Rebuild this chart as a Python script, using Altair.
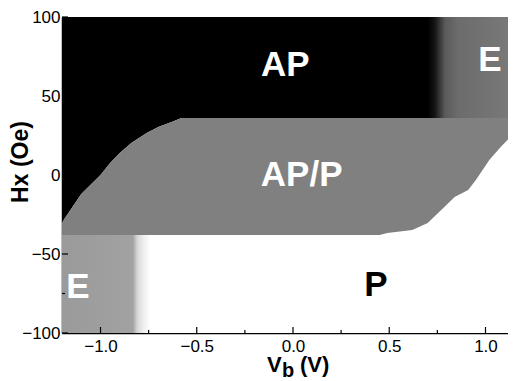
import altair as alt
import pandas as pd

# ---- axis ranges and ticks ----
X_MIN, X_MAX = -1.2, 1.117
Y_MIN, Y_MAX = -100, 100
X_MAJOR = [-1.0, -0.5, 0.0, 0.5, 1.0]
X_MINOR = [-0.75, -0.25, 0.25, 0.75]
Y_MAJOR = [-100, -50, 0, 50, 100]
Y_MINOR = [-75, -25, 25, 75]

# ---- phase boundaries (V_b in V, Hx in Oe) ----
bound_v = [-1.2, -1.1, -1.0, -0.95, -0.9, -0.84, -0.76, -0.7, -0.63, -0.58,
           0.45, 0.49, 0.62, 0.70, 0.77, 0.84, 0.91, 0.95, 1.02, 1.08, 1.15]
upper_h = [-30, -12, 0, 7.6, 14, 20.3, 26.6, 30.4, 33.5, 36,
           36, 36, 36, 36, 36, 36, 36, 36, 36, 36, 36]
lower_h = [-38, -38, -38, -38, -38, -38, -38, -38, -38, -38,
           -38, -36.7, -34.8, -30.4, -22.2, -13.9, -9.5, -3.2, 9.5, 17.9, 26.6]

# ---- E (noisy) regions ----
e_v0 = [-1.2, 0.70]
e_v1 = [-0.74, 1.15]
e_h0 = [-100, 36]
e_h1 = [-38, 100]

# ---- region labels ----
lab_text = ["AP", "AP/P", "P", "E", "E"]
lab_v = [-0.04, 0.045, 0.431, 1.023, -1.117]
lab_h = [69.6, 0.0, -69.4, 72.5, -71.2]
lab_col = ["white", "white", "black", "white", "white"]

FONT = "Liberation Sans"
W, H = 446, 316

bounds = pd.DataFrame({"v": bound_v, "upper": upper_h, "lower": lower_h,
                       "floor": [Y_MIN] * len(bound_v),
                       "ceil": [Y_MAX] * len(bound_v)})
eregs = pd.DataFrame({"v0": e_v0, "v1": e_v1, "h0": e_h0, "h1": e_h1})
labels = pd.DataFrame({"v": lab_v, "h": lab_h, "t": lab_text, "c": lab_col})
xmaj = pd.DataFrame({"v": X_MAJOR})
xmin = pd.DataFrame({"v": X_MINOR})
ymaj = pd.DataFrame({"h": Y_MAJOR})
ymin = pd.DataFrame({"h": Y_MINOR})

xs = alt.Scale(domain=[X_MIN, X_MAX], nice=False, zero=False)
ys = alt.Scale(domain=[Y_MIN, Y_MAX], nice=False, zero=False)

xaxis = alt.Axis(values=X_MAJOR, format=".1f", title=None, ticks=False, grid=False,
                 labelFontSize=17, labelFont=FONT, labelColor="black", labelPadding=5,
                 domainColor="black", domainWidth=1.5, labelFlush=False, labelOverlap=False)
yaxis = alt.Axis(values=Y_MAJOR, format="d", title=None, ticks=False, grid=False,
                 labelFontSize=17, labelFont=FONT, labelColor="black", labelPadding=2,
                 domainColor="black", domainWidth=1.5, labelFlush=False, labelOverlap=False)


def X(f):
    return alt.X(f, type="quantitative", scale=xs, axis=xaxis)


def Y(f):
    return alt.Y(f, type="quantitative", scale=ys, axis=yaxis)


ap_area = alt.Chart(bounds).mark_area(color="black", clip=True).encode(
    x=X("v"), y=Y("upper"), y2="ceil")
p_area = alt.Chart(bounds).mark_area(color="white", clip=True).encode(
    x=X("v"), y=Y("floor"), y2="lower")
g_area = alt.Chart(bounds).mark_area(color="#808080", clip=True).encode(
    x=X("v"), y=Y("lower"), y2="upper")

grad_bl = alt.LinearGradient(gradient="linear", x1=0, x2=1, y1=0, y2=0, stops=[
    alt.GradientStop(color="#9a9a9a", offset=0),
    alt.GradientStop(color="#a2a2a2", offset=0.8),
    alt.GradientStop(color="#d6d6d6", offset=0.85),
    alt.GradientStop(color="#eeeeee", offset=0.92),
    alt.GradientStop(color="#ffffff", offset=1)])
grad_tr = alt.LinearGradient(gradient="linear", x1=0, x2=1, y1=0, y2=0, stops=[
    alt.GradientStop(color="#000000", offset=0),
    alt.GradientStop(color="#141414", offset=0.08),
    alt.GradientStop(color="#5a5a5a", offset=0.2),
    alt.GradientStop(color="#6c6c6c", offset=0.35),
    alt.GradientStop(color="#7a7a7a", offset=1)])

e_bl = alt.Chart(eregs.iloc[[0]]).mark_rect(color=grad_bl, clip=True).encode(
    x=X("v0"), x2="v1", y=Y("h0"), y2="h1")
e_tr = alt.Chart(eregs.iloc[[1]]).mark_rect(color=grad_tr, clip=True).encode(
    x=X("v0"), x2="v1", y=Y("h0"), y2="h1")

texts = alt.Chart(labels).mark_text(font=FONT, fontWeight="bold", fontSize=35,
                                    align="center", baseline="middle").encode(
    x=X("v"), y=Y("h"), text="t:N", color=alt.Color("c:N", scale=None))

tk_xmaj = alt.Chart(xmaj).mark_rule(color="black", strokeWidth=1.2).encode(
    x=X("v"), y=alt.value(H), y2=alt.value(H - 6))
tk_xmin = alt.Chart(xmin).mark_rule(color="black", strokeWidth=1.2).encode(
    x=X("v"), y=alt.value(H), y2=alt.value(H - 3))
tk_ymaj = alt.Chart(ymaj).mark_rule(color="black", strokeWidth=1.2).encode(
    y=Y("h"), x=alt.value(0), x2=alt.value(6))
tk_ymin = alt.Chart(ymin).mark_rule(color="black", strokeWidth=1.2).encode(
    y=Y("h"), x=alt.value(0), x2=alt.value(3))

# axis titles (V with subscript b built from separate text pieces)
xt_main = pd.DataFrame({"t": ["V", "(V)"], "px": [205, 238]})
xt_sub = pd.DataFrame({"t": ["b"]})
yt = pd.DataFrame({"t": ["Hx (Oe)"]})

xtitle = alt.Chart(xt_main).mark_text(font=FONT, fontWeight="bold", fontSize=22,
                                      align="left", baseline="alphabetic").encode(
    x=alt.X("px:Q", scale=None), y=alt.value(355), text="t:N")
xsub = alt.Chart(xt_sub).mark_text(font=FONT, fontWeight="bold", fontSize=20,
                                   align="left", baseline="alphabetic").encode(
    x=alt.value(220), y=alt.value(360), text="t:N")
ytitle = alt.Chart(yt).mark_text(font=FONT, fontWeight="bold", fontSize=23, angle=270,
                                 align="center", baseline="middle").encode(
    x=alt.value(-41), y=alt.value(145), text="t:N")

chart = alt.layer(ap_area, p_area, g_area, e_bl, e_tr, texts,
                  tk_xmaj, tk_xmin, tk_ymaj, tk_ymin,
                  xtitle, xsub, ytitle).properties(
    width=W, height=H,
    background="white",
    autosize=alt.AutoSizeParams(type="none"),
    padding={"left": 54, "top": 9, "right": 0, "bottom": 48},
).configure_view(stroke=None)

chart.save("out.html", embed_options={"renderer": "svg", "actions": False})
